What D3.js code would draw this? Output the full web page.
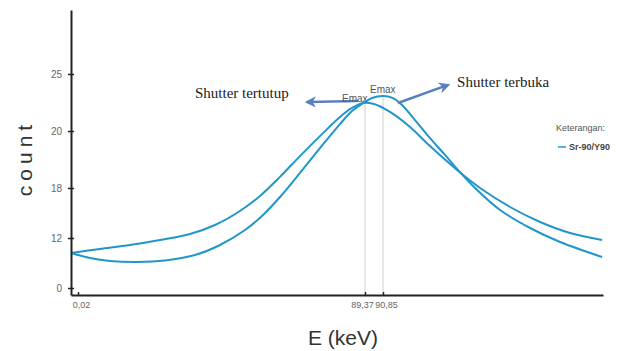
<!DOCTYPE html>
<html>
<head>
<meta charset="utf-8">
<script src="https://cdn.jsdelivr.net/npm/d3@7"></script>
<style>
  body { margin: 0; background: #fff; }
  svg { display: block; }
</style>
</head>
<body>
<div id="chart"></div>
<script>
// energy (keV) and counts
var tertutupE = [-2.16, 6.87, 16.21, 25.55, 34.89, 42.67, 50.45, 56.68, 62.90, 69.13, 75.35, 81.58, 85.32, 88.74, 90.11, 93.03, 99.26, 105.48, 113.89, 121.05, 130.39, 139.73, 149.06, 159.02];
var tertutupCount = [8.4, 9.36, 10.32, 11.52, 12.48, 13.56, 15.24, 17.04, 18.39, 19.12, 19.82, 21.23, 22.02, 22.46, 22.37, 21.67, 20.35, 19.47, 18.63, 18.0, 15.72, 13.92, 12.60, 11.52];

var terbukaE = [-2.16, 3.76, 9.98, 18.39, 27.10, 36.44, 44.22, 52.01, 57.30, 62.90, 69.13, 75.35, 81.58, 85.32, 88.43, 89.95, 90.85, 93.96, 96.76, 100.81, 105.48, 110.15, 113.89, 119.49, 127.27, 136.61, 145.95, 159.02];
var terbukaCount = [8.4, 7.2, 6.48, 6.24, 6.6, 7.92, 10.32, 12.96, 14.64, 16.92, 18.53, 19.40, 20.61, 21.75, 22.37, 22.89, 23.07, 22.89, 22.28, 20.96, 19.75, 19.16, 18.67, 18.0, 15.36, 13.2, 11.04, 7.44];

var xTicks = [0.02, 89.37, 90.85];
var xTickLabels = ["0,02", "89,37", "90,85"];
var yTicks = [0, 12, 18, 20, 25];

var peaks = [{e: 89.37, c: 22.46}, {e: 90.85, c: 23.07}];

var arrows = [
  {x1: 87.2, y1: 22.63, x2: 71.3, y2: 22.54},
  {x1: 95.5, y1: 22.46, x2: 111.1, y2: 24.04}
];
var labels = [
  {text: "Shutter tertutup", e: 36.44, c: 22.9, kind: "big"},
  {text: "Shutter terbuka", e: 113.9, c: 23.86, kind: "big"},
  {text: "Emax", e: 82.2, c: 22.54, kind: "small"},
  {text: "Emax", e: 89.78, c: 23.33, kind: "small"}
];

var width = 631, height = 351;

var svg = d3.select("#chart").append("svg")
    .attr("width", width)
    .attr("height", height);

// both axes of the original are stretched by hand, so the scales are piecewise
var x = d3.scaleLinear()
    .domain([-2.16, 0.02, 89.37, 90.85, 159.3])
    .range([71, 78, 365, 383, 603]);

var y = d3.scaleLinear()
    .domain([-1.68, 0, 12, 18, 20, 25, 30.6])
    .range([295, 288, 238, 188, 131, 74, 10]);

var line = d3.line()
    .x(function(d) { return x(d[0]); })
    .y(function(d) { return y(d[1]); })
    .curve(d3.curveCatmullRom.alpha(0.5));

// thin grey drop lines at the two peaks
svg.append("g").selectAll("line")
    .data(peaks)
    .enter().append("line")
    .attr("x1", function(d) { return x(d.e); })
    .attr("x2", function(d) { return x(d.e); })
    .attr("y1", y(-1.68))
    .attr("y2", function(d) { return y(d.c); })
    .style("stroke", "#cfcfcf")
    .style("stroke-width", 1);

var series = [d3.zip(tertutupE, tertutupCount), d3.zip(terbukaE, terbukaCount)];

svg.append("g").selectAll("path")
    .data(series)
    .enter().append("path")
    .attr("d", line)
    .style("fill", "none")
    .style("stroke", "#2196c9")
    .style("stroke-width", 2);

// AXIS
var yAxis = svg.append("g")
    .attr("transform", "translate(" + x(-2.16) + ",0)")
    .call(d3.axisLeft(y)
        .tickValues(yTicks)
        .tickSizeInner(3)
        .tickSizeOuter(0)
        .tickPadding(6));

var xAxis = svg.append("g")
    .attr("transform", "translate(0," + y(-1.68) + ")")
    .call(d3.axisBottom(x)
        .tickValues(xTicks)
        .tickFormat(function(d, i) { return xTickLabels[i]; })
        .tickSizeInner(-3)
        .tickSizeOuter(0)
        .tickPadding(5));

[yAxis, xAxis].forEach(function(a) {
  a.select(".domain").style("stroke", "#222").style("stroke-width", 2);
  a.selectAll(".tick line").style("stroke", "#222").style("stroke-width", 1.5);
  a.selectAll(".tick text")
      .style("fill", "#666")
      .style("font-family", "Liberation Sans, Arial, sans-serif")
      .style("font-size", "10px");
});
// y ticks cross the axis line
yAxis.selectAll(".tick line").attr("x1", 3).attr("x2", -3);
xAxis.selectAll(".tick text").attr("dy", "0.9em");
xAxis.selectAll(".tick text").style("font-size", "9px");
xAxis.selectAll(".tick text").filter(function(d, i) { return i == 1; }).attr("dx", "-3");
xAxis.selectAll(".tick text").filter(function(d, i) { return i == 2; }).attr("dx", "3");
xAxis.selectAll(".tick text").filter(function(d, i) { return i == 0; }).attr("dx", "3");

// axis titles
svg.append("text")
    .attr("transform", "translate(32,158) rotate(-90)")
    .attr("text-anchor", "middle")
    .style("font-family", "Liberation Sans, Arial, sans-serif")
    .style("font-size", "21px")
    .style("letter-spacing", "5px")
    .style("fill", "#333")
    .text("count");

svg.append("text")
    .attr("x", 343)
    .attr("y", 345)
    .attr("text-anchor", "middle")
    .style("font-family", "Liberation Sans, Arial, sans-serif")
    .style("font-size", "21px")
    .style("fill", "#333")
    .text("E (keV)");

// annotation arrows
svg.append("defs").append("marker")
    .attr("id", "head")
    .attr("viewBox", "0 0 10 10")
    .attr("refX", 8).attr("refY", 5)
    .attr("markerWidth", 4.5).attr("markerHeight", 4.5)
    .attr("orient", "auto")
    .append("path")
    .attr("d", "M0,0 L10,5 L0,10 L3,5 z")
    .style("fill", "#5a7fc0");

svg.append("g").selectAll("line")
    .data(arrows)
    .enter().append("line")
    .attr("x1", function(d) { return x(d.x1); })
    .attr("y1", function(d) { return y(d.y1); })
    .attr("x2", function(d) { return x(d.x2); })
    .attr("y2", function(d) { return y(d.y2); })
    .attr("marker-end", "url(#head)")
    .style("stroke", "#5a7fc0")
    .style("stroke-width", 2.5);

svg.append("g").selectAll("text")
    .data(labels)
    .enter().append("text")
    .attr("x", function(d) { return x(d.e); })
    .attr("y", function(d) { return y(d.c); })
    .style("font-family", function(d) { return d.kind == "big" ? "Liberation Serif, Times New Roman, serif" : "Liberation Sans, Arial, sans-serif"; })
    .style("font-size", function(d) { return d.kind == "big" ? "15px" : "10px"; })
    .style("fill", function(d) { return d.kind == "big" ? "#222" : "#555"; })
    .text(function(d) { return d.text; });

// legend
var legend = svg.append("g").attr("transform", "translate(556,0)");
legend.append("text")
    .attr("x", 0).attr("y", 131)
    .style("font-family", "Liberation Sans, Arial, sans-serif")
    .style("font-size", "9px")
    .style("fill", "#555")
    .text("Keterangan:");
legend.append("line")
    .attr("x1", 2).attr("x2", 10)
    .attr("y1", 147).attr("y2", 147)
    .style("stroke", "#2196c9")
    .style("stroke-width", 1.5);
legend.append("text")
    .attr("x", 13).attr("y", 150)
    .style("font-family", "Liberation Sans, Arial, sans-serif")
    .style("font-size", "9px")
    .style("font-weight", "bold")
    .style("fill", "#444")
    .text("Sr-90/Y90");
</script>
</body>
</html>
